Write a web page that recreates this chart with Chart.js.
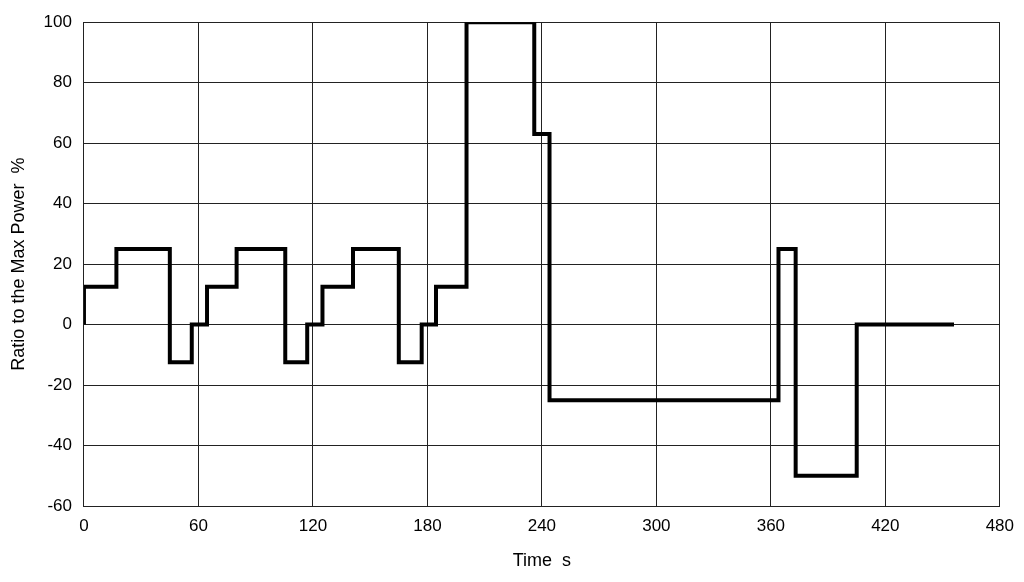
<!DOCTYPE html>
<html>
<head>
<meta charset="utf-8">
<script src="https://cdn.jsdelivr.net/npm/chart.js@4/dist/chart.umd.min.js"></script>
<style>
  html, body { margin: 0; padding: 0; background: #fff; }
</style>
</head>
<body>
<canvas id="powerChart" width="1024" height="582"></canvas>
<script>
// step change times (s) and the power ratio held from each time onward (%)
const stepTimes = [0, 17, 45, 56.5, 64.5, 80, 105.5, 117, 125, 141, 165, 177, 184.5, 200.5, 236, 244, 364, 373, 405, 413, 456];
const stepValues = [0, 12.5, 25, -12.5, 0, 12.5, 25, -12.5, 0, 12.5, 25, -12.5, 0, 12.5, 100, 63, -25, 25, -50, 0, 0];
const xTicks = [0, 60, 120, 180, 240, 300, 360, 420, 480];
const yTicks = [-60, -40, -20, 0, 20, 40, 60, 80, 100];

const points = stepTimes.map((t, i) => ({ x: t, y: stepValues[i] }));

new Chart(document.getElementById('powerChart').getContext('2d'), {
    type: 'line',
    data: {
        datasets: [{
            data: points,
            stepped: 'after',
            borderColor: '#000',
            borderWidth: 4,
            pointRadius: 0,
            fill: false
        }]
    },
    options: {
        responsive: false,
        animation: false,
        layout: { padding: { left: 4, right: 24, top: 14, bottom: 6 } },
        plugins: { legend: { display: false }, tooltip: { enabled: false } },
        scales: {
            x: {
                type: 'linear',
                min: 0, max: 480,
                afterBuildTicks: axis => { axis.ticks = xTicks.map(v => ({ value: v })); },
                grid: { color: '#222', lineWidth: 1, drawTicks: false },
                border: { color: '#222' },
                ticks: { color: '#000', autoSkip: false, maxRotation: 0, font: { family: 'Arial, Liberation Sans', size: 17 }, padding: 10 },
                title: { display: true, text: 'Time  s', color: '#000', font: { family: 'Arial, Liberation Sans', size: 18 }, padding: { top: 4 } }
            },
            y: {
                min: -60, max: 100,
                afterBuildTicks: axis => { axis.ticks = yTicks.map(v => ({ value: v })); },
                grid: { color: '#222', lineWidth: 1, drawTicks: false },
                border: { color: '#222' },
                ticks: { color: '#000', autoSkip: false, font: { family: 'Arial, Liberation Sans', size: 17 }, padding: 12 },
                title: { display: true, text: 'Ratio to the Max Power  %', color: '#000', font: { family: 'Arial, Liberation Sans', size: 18 }, padding: { bottom: 2 } }
            }
        }
    }
});
</script>
</body>
</html>
